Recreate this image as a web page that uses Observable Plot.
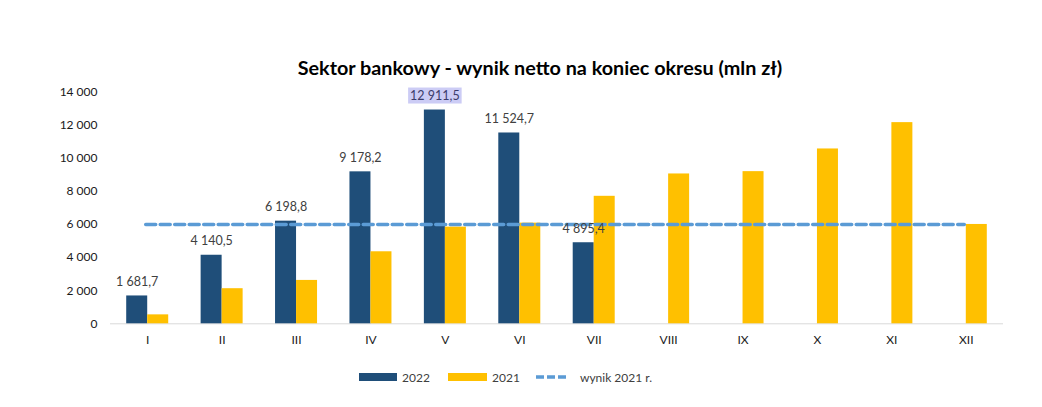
<!DOCTYPE html>
<html>
<head>
<meta charset="utf-8">
<script src="https://cdn.jsdelivr.net/npm/d3@7"></script>
<script src="https://cdn.jsdelivr.net/npm/@observablehq/plot@0.6"></script>
<style>
  html, body { margin: 0; padding: 0; background: #fff; }
  #wrap { position: relative; width: 1042px; height: 407px; font-family: Lato, "Open Sans", sans-serif; }
  #title { position: absolute; top: 55px; left: 0; width: 1080px; text-align: center; font-weight: bold; font-size: 19.8px; line-height: 24px; color: #000; }
  #chart { position: absolute; top: 75px; left: 0; }
  .lg { position: absolute; top: 370px; height: 14px; display: flex; align-items: center; font-size: 12px; color: #404040; }
  .sw { width: 38px; height: 8px; margin-right: 5px; }
</style>
</head>
<body>
<div id="wrap">
  <div id="title">Sektor bankowy - wynik netto na koniec okresu (mln zł)</div>
  <div id="chart"></div>
  <div class="lg" style="left:359px"><div class="sw" style="background:#1F4E79"></div>2022</div>
  <div class="lg" style="left:448px"><div class="sw" style="background:#FFC000;width:39px"></div>2021</div>
  <div class="lg" style="left:536px"><svg width="30" height="8" style="margin-right:14px"><line x1="0" y1="4" x2="30" y2="4" stroke="#5B9BD5" stroke-width="3.5" stroke-dasharray="8,3"/></svg>wynik 2021 r.</div>
</div>
<script>
const months = ["I","II","III","IV","V","VI","VII","VIII","IX","X","XI","XII"];
const values2022 = [1681.7, 4140.5, 6198.8, 9178.2, 12911.5, 11524.7, 4895.4];
const values2021 = [540, 2120, 2620, 4350, 5840, 6080, 7700, 9050, 9190, 10560, 12150, 6000];
const wynik2021 = 6000;
const yTicks = [0, 2000, 4000, 6000, 8000, 10000, 12000, 14000];

const loc = d3.formatLocale({decimal: ",", thousands: " ", grouping: [3], currency: ["", ""]});
const fmt1 = loc.format(",.1f");
const fmt0 = loc.format(",");

const d2022 = values2022.map((v, i) => ({month: months[i], value: v}));
const d2021 = values2021.map((v, i) => ({month: months[i], value: v}));
const dLine = months.map(m => ({month: m, value: wynik2021}));
const maxIdx = values2022.indexOf(d3.max(values2022));

const bw = 21;
const step = (1042 - 110 - 39) / 12;
const outer = (step - 2 * bw) / 2;

const chart = Plot.plot({
  width: 1042,
  height: 280,
  marginTop: 16.5,
  marginBottom: 31.7,
  marginLeft: 110,
  marginRight: 39,
  style: {fontFamily: "Lato, 'Open Sans', sans-serif", fontSize: "12px", color: "#1a1a1a", background: "transparent"},
  x: {domain: months, padding: 0, round: false, label: null, tickSize: 0, tickPadding: 12},
  y: {domain: [0, 14000], ticks: yTicks, tickFormat: fmt0, label: null, tickSize: 0, tickPadding: 13},
  marks: [
    Plot.ruleY([0], {stroke: "#d9d9d9", strokeWidth: 1}),
    Plot.barY(d2022, {x: "month", y: "value", fill: "#1F4E79", insetLeft: outer, insetRight: outer + bw}),
    Plot.barY(d2021, {x: "month", y: "value", fill: "#FFC000", insetLeft: outer + bw, insetRight: outer}),
    Plot.line(dLine, {x: "month", y: "value", stroke: "#5B9BD5", strokeWidth: 3.5, strokeDasharray: "10,4.5", dx: -2}),
    Plot.text(d2022, {x: "month", y: "value", text: d => fmt1(d.value), dx: -bw / 2, dy: -14, lineAnchor: "middle",
      fill: (d, i) => i === maxIdx ? "#3b3b6b" : "#404040", fontSize: 12.5, className: "vlabel"})
  ]
});
document.getElementById("chart").appendChild(chart);

// highlight box behind the maximum label
const labels = chart.querySelectorAll(".vlabel text");
const t = labels[maxIdx];
if (t) {
  const bb = t.getBBox();
  const rect = document.createElementNS("http://www.w3.org/2000/svg", "rect");
  rect.setAttribute("x", bb.x - 2);
  rect.setAttribute("y", bb.y - 0.5);
  rect.setAttribute("width", bb.width + 4);
  rect.setAttribute("height", bb.height + 1);
  rect.setAttribute("fill", "#CCCCF5");
  const tr = t.getAttribute("transform");
  if (tr) rect.setAttribute("transform", tr);
  t.parentNode.insertBefore(rect, t);
}
</script>
</body>
</html>
